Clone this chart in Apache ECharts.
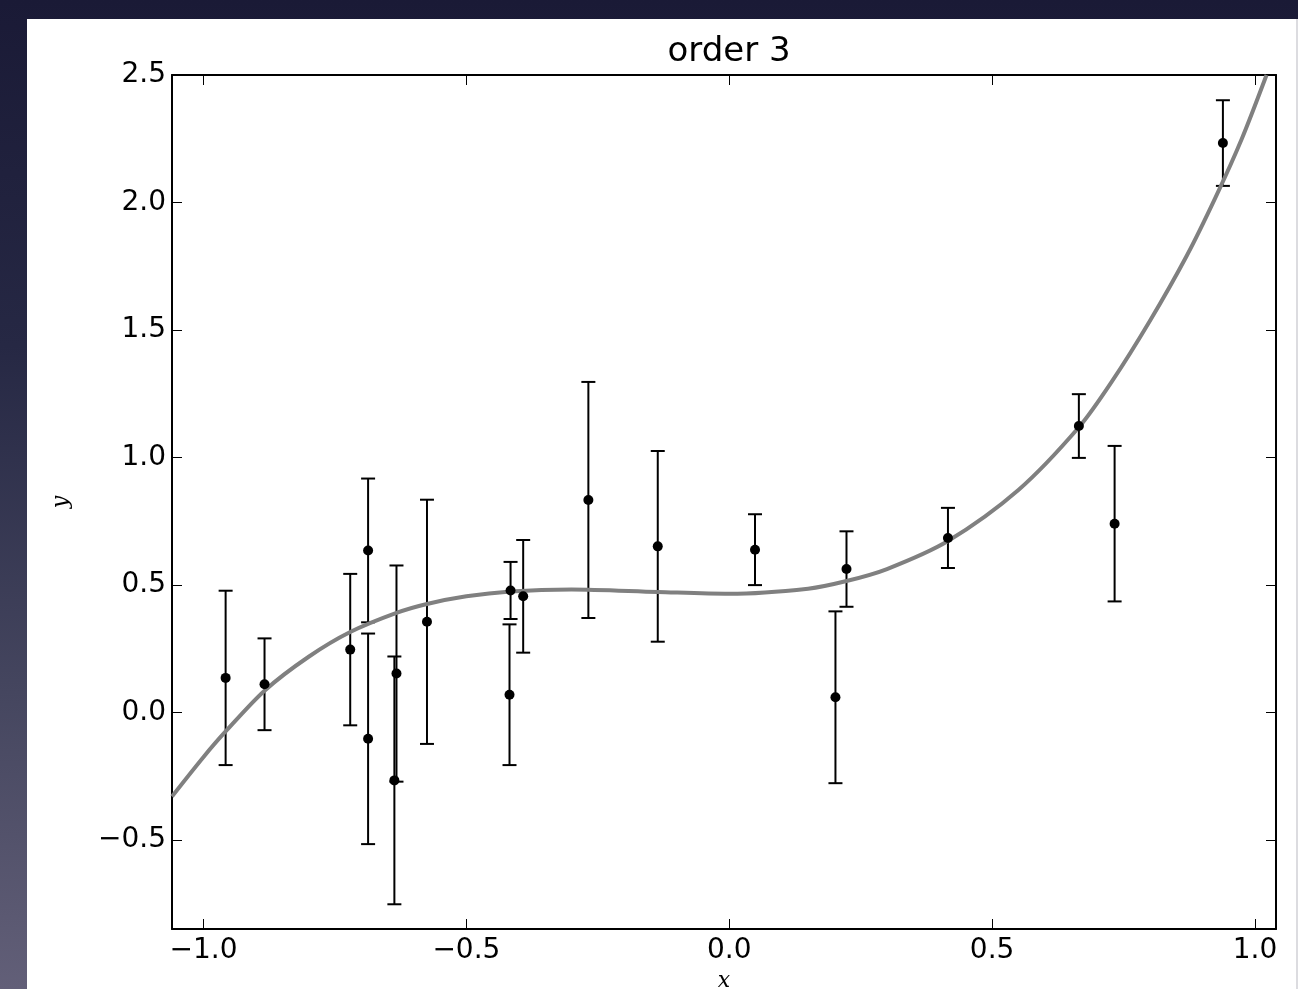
<!DOCTYPE html>
<html>
<head>
<meta charset="UTF-8">
<title>order 3</title>
<script src="https://cdn.jsdelivr.net/npm/echarts@6/dist/echarts.min.js"></script>
<style>
  html, body { margin: 0; padding: 0; }
  body {
    width: 1298px; height: 989px; overflow: hidden; position: relative;
    background: linear-gradient(to bottom, #1a1a36 0%, #262844 35%, #45465f 70%, #625f78 100%);
  }
  #paper { position: absolute; left: 27px; top: 19px; width: 1269px; height: 970px; background: #fff; }
  #edge { position: absolute; left: 1296px; top: 19px; width: 2px; height: 970px; background: #dcdce0; }
  #chart { position: absolute; left: 0; top: 0; width: 1298px; height: 989px; }
</style>
</head>
<body>
<div id="paper"></div>
<div id="edge"></div>
<div id="chart"></div>
<script>
// measured points with symmetric error bars
var xs   = [-0.958, -0.884, -0.721, -0.687, -0.687, -0.633, -0.637, -0.575, -0.416, -0.418, -0.392, -0.268, -0.136, 0.049, 0.202, 0.223, 0.416, 0.665, 0.733, 0.939];
var ys   = [0.135, 0.110, 0.246, 0.635, -0.104, 0.152, -0.267, 0.355, 0.478, 0.069, 0.455, 0.833, 0.651, 0.638, 0.059, 0.562, 0.684, 1.123, 0.740, 2.233];
var errs = [0.342, 0.180, 0.297, 0.282, 0.413, 0.424, 0.486, 0.479, 0.112, 0.276, 0.221, 0.463, 0.374, 0.139, 0.337, 0.148, 0.118, 0.125, 0.305, 0.168];

// order 3 fit
var curveX = [-1.06, -1.0, -0.958, -0.884, -0.80, -0.721, -0.633, -0.575, -0.50, -0.416, -0.30, -0.136, 0.0, 0.15, 0.223, 0.30, 0.416, 0.55, 0.665, 0.727, 0.80, 0.87, 0.925, 0.975, 1.022];
var curveY = [-0.33, -0.175, -0.075, 0.085, 0.218, 0.315, 0.39, 0.425, 0.455, 0.474, 0.482, 0.472, 0.465, 0.485, 0.515, 0.562, 0.672, 0.872, 1.118, 1.295, 1.535, 1.79, 2.02, 2.25, 2.5];

var xTicks = [-1.0, -0.5, 0.0, 0.5, 1.0];
var yTicks = [-0.5, 0.0, 0.5, 1.0, 1.5, 2.0, 2.5];

var fmt = function (v) { return v.toFixed(1).replace('-', '\u2212'); };
var font = 'DejaVu Sans';

function axis(pos, ticks, range, labels, name) {
  var a = {
    type: 'value', position: pos, min: range[0], max: range[1],
    splitLine: { show: false },
    axisLine: { show: true, onZero: false, lineStyle: { color: '#000', width: 2 } },
    axisTick: { show: true, inside: true, length: 10, customValues: ticks, lineStyle: { color: '#000', width: 1 } },
    axisLabel: { show: labels, customValues: ticks, formatter: fmt, color: '#000', fontSize: 28, fontFamily: font, margin: 8 }
  };
  if (name) {
    a.name = name;
    a.nameLocation = 'middle';
    a.nameTextStyle = { fontFamily: 'DejaVu Serif', fontStyle: 'italic', fontSize: 22, color: '#000' };
  }
  return a;
}

var xr = [-1.06, 1.04], yr = [-0.85, 2.5];
var xBottom = axis('bottom', xTicks, xr, true, 'x'); xBottom.nameGap = 40;
var yLeft = axis('left', yTicks, yr, true, 'y'); yLeft.nameGap = 100; yLeft.axisLabel.margin = 6;

var chart = echarts.init(document.getElementById('chart'));
chart.setOption({
  animation: false,
  title: {
    text: 'order 3', left: 724, top: 30, textAlign: 'center',
    textStyle: { fontFamily: font, fontWeight: 'normal', fontSize: 34, color: '#000' }
  },
  grid: { left: 172, top: 75, width: 1104, height: 854, containLabel: false, outerBoundsMode: 'none' },
  xAxis: [xBottom, axis('top', xTicks, xr, false)],
  yAxis: [yLeft, axis('right', yTicks, yr, false)],
  series: [
    {
      type: 'custom', z: 2,
      data: xs.map(function (x, i) { return [x, ys[i], errs[i]]; }),
      renderItem: function (params, api) {
        var x = api.value(0), y = api.value(1), e = api.value(2);
        var t = api.coord([x, y + e]), b = api.coord([x, y - e]);
        var hw = 7, st = { stroke: '#000', lineWidth: 2 };
        return {
          type: 'group', children: [
            { type: 'line', shape: { x1: t[0], y1: t[1], x2: b[0], y2: b[1] }, style: st },
            { type: 'line', shape: { x1: t[0] - hw, y1: t[1], x2: t[0] + hw, y2: t[1] }, style: st },
            { type: 'line', shape: { x1: b[0] - hw, y1: b[1], x2: b[0] + hw, y2: b[1] }, style: st }
          ]
        };
      }
    },
    {
      type: 'line', z: 3, smooth: 0.3, showSymbol: false, clip: true,
      data: curveX.map(function (x, i) { return [x, curveY[i]]; }),
      lineStyle: { color: '#808080', width: 4 }
    },
    {
      type: 'scatter', z: 4, symbol: 'circle', symbolSize: 10,
      data: xs.map(function (x, i) { return [x, ys[i]]; }),
      itemStyle: { color: '#000', opacity: 1 }
    }
  ]
});
</script>
</body>
</html>
